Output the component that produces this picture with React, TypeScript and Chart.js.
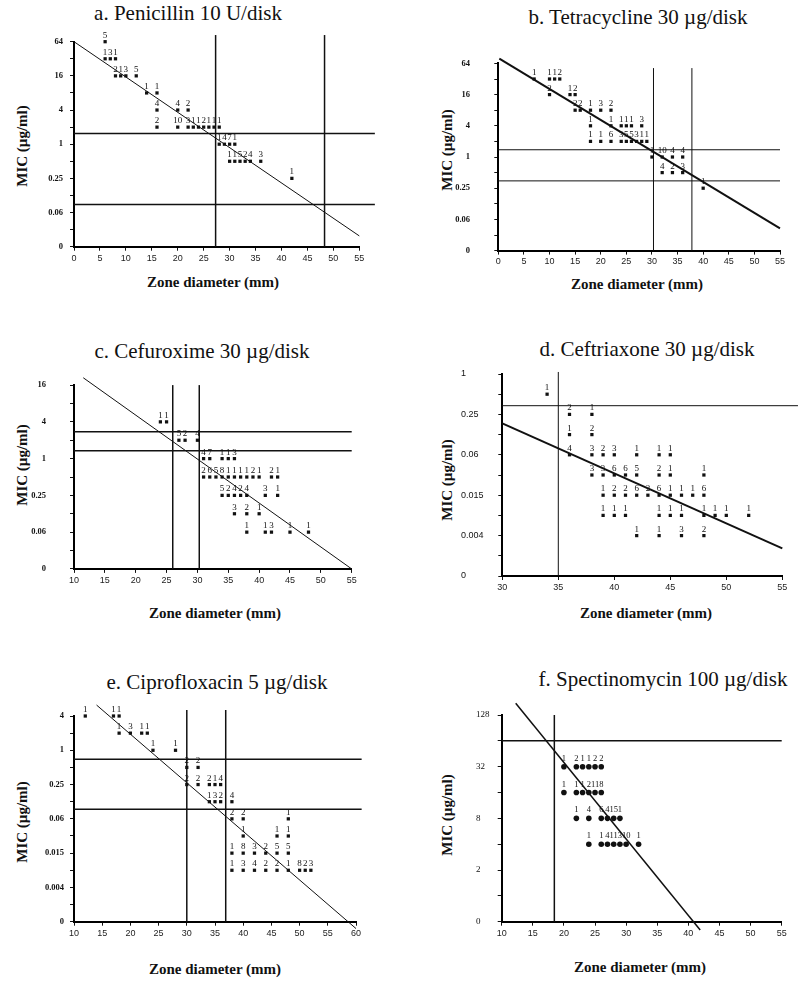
import React, { useEffect, useRef } from 'react';
import { Chart, registerables } from 'chart.js';

Chart.register(...registerables);

// [zone diameter (mm), MIC (µg/ml), number of isolates]
type Obs = [number, number, number];

// ---------- a. Penicillin 10 U/disk ----------
const penicillinObs: Obs[] = [
  [6, 64, 5],
  [6, 32, 1], [7, 32, 3], [8, 32, 1],
  [8, 16, 2], [9, 16, 1], [10, 16, 3], [12, 16, 5],
  [14, 8, 1], [16, 8, 1],
  [16, 4, 4], [20, 4, 4], [22, 4, 2],
  [16, 2, 2], [20, 2, 10], [22, 2, 3], [23, 2, 1], [24, 2, 1], [25, 2, 2], [26, 2, 1], [27, 2, 1], [28, 2, 1],
  [28, 1, 1], [29, 1, 4], [30, 1, 7], [31, 1, 1],
  [30, 0.5, 1], [31, 0.5, 1], [32, 0.5, 5], [33, 0.5, 2], [34, 0.5, 4], [36, 0.5, 3],
  [42, 0.25, 1],
];
const penicillinZoneBreaks = [27.3, 48.3];
const penicillinMicBreaks = [1.54, 0.087];
const penicillinFit: [number, number][] = [[0, 64], [55, 0.0242]];

// ---------- b. Tetracycline 30 µg/disk ----------
const tetracyclineObs: Obs[] = [
  [7, 32, 1], [10, 32, 1], [11, 32, 1], [12, 32, 2],
  [10, 16, 2], [14, 16, 1], [15, 16, 2],
  [15, 8, 2], [16, 8, 2], [18, 8, 1], [20, 8, 3], [22, 8, 2],
  [18, 4, 1], [22, 4, 1], [24, 4, 1], [25, 4, 1], [26, 4, 1], [28, 4, 3],
  [18, 2, 1], [20, 2, 1], [22, 2, 6], [24, 2, 3], [25, 2, 5], [26, 2, 5], [27, 2, 3], [28, 2, 1], [29, 2, 1],
  [30, 1, 1], [32, 1, 10], [34, 1, 4], [36, 1, 4],
  [32, 0.5, 4], [34, 0.5, 2], [36, 0.5, 3],
  [40, 0.25, 1],
];
const tetracyclineZoneBreaks = [30.3, 37.8];
const tetracyclineMicBreaks = [1.38, 0.346];
const tetracyclineFit: [number, number][] = [[0.2, 78.8], [55, 0.042]];

// ---------- c. Cefuroxime 30 µg/disk ----------
const cefuroximeObs: Obs[] = [
  [24, 4, 1], [25, 4, 1],
  [27, 2, 5], [28, 2, 2], [30, 2, 4],
  [31, 1, 4], [32, 1, 7], [34, 1, 1], [35, 1, 1], [36, 1, 3],
  [31, 0.5, 2], [32, 0.5, 6], [33, 0.5, 5], [34, 0.5, 8], [35, 0.5, 1], [36, 0.5, 1], [37, 0.5, 1], [38, 0.5, 1], [39, 0.5, 2], [40, 0.5, 1], [42, 0.5, 2], [43, 0.5, 1],
  [34, 0.25, 5], [35, 0.25, 2], [36, 0.25, 4], [37, 0.25, 2], [38, 0.25, 4], [41, 0.25, 3], [43, 0.25, 1],
  [36, 0.125, 3], [38, 0.125, 2], [40, 0.125, 1],
  [38, 0.0625, 1], [41, 0.0625, 1], [42, 0.0625, 3], [45, 0.0625, 1], [48, 0.0625, 1],
];
const cefuroximeZoneBreaks = [26.0, 30.3];
const cefuroximeMicBreaks = [2.75, 1.35];
const cefuroximeFit: [number, number][] = [[11.5, 21.1], [55, 0.0156]];

// ---------- d. Ceftriaxone 30 µg/disk ----------
const ceftriaxoneObs: Obs[] = [
  [34, 0.5, 1],
  [36, 0.25, 2], [38, 0.25, 1],
  [36, 0.125, 1], [38, 0.125, 2],
  [36, 0.0625, 4], [38, 0.0625, 3], [39, 0.0625, 2], [40, 0.0625, 3], [42, 0.0625, 1], [44, 0.0625, 1], [45, 0.0625, 1],
  [38, 0.03125, 3], [39, 0.03125, 3], [40, 0.03125, 6], [41, 0.03125, 6], [42, 0.03125, 5], [44, 0.03125, 2], [45, 0.03125, 1], [48, 0.03125, 1],
  [39, 0.015625, 1], [40, 0.015625, 2], [41, 0.015625, 2], [42, 0.015625, 6], [43, 0.015625, 2], [44, 0.015625, 6], [45, 0.015625, 1], [46, 0.015625, 1], [47, 0.015625, 1], [48, 0.015625, 6],
  [39, 0.0078125, 1], [40, 0.0078125, 1], [41, 0.0078125, 1], [44, 0.0078125, 1], [45, 0.0078125, 1], [46, 0.0078125, 1], [48, 0.0078125, 1], [49, 0.0078125, 1], [50, 0.0078125, 1], [52, 0.0078125, 1],
  [42, 0.00390625, 1], [44, 0.00390625, 1], [46, 0.00390625, 3], [48, 0.00390625, 2],
];
const ceftriaxoneZoneBreaks = [35];
const ceftriaxoneMicBreaks = [0.337];
const ceftriaxoneFit: [number, number][] = [[30, 0.184], [55, 0.00252]];

// ---------- e. Ciprofloxacin 5 µg/disk ----------
const ciprofloxacinObs: Obs[] = [
  [12, 4, 1], [17, 4, 1], [18, 4, 1],
  [18, 2, 1], [20, 2, 3], [22, 2, 1], [23, 2, 1],
  [24, 1, 1], [28, 1, 1],
  [30, 0.5, 2], [32, 0.5, 2],
  [30, 0.25, 2], [32, 0.25, 2], [34, 0.25, 2], [35, 0.25, 1], [36, 0.25, 4],
  [34, 0.125, 1], [35, 0.125, 3], [36, 0.125, 2], [38, 0.125, 4],
  [38, 0.0625, 2], [40, 0.0625, 2], [48, 0.0625, 1],
  [40, 0.03125, 1], [46, 0.03125, 1], [48, 0.03125, 1],
  [38, 0.015625, 1], [40, 0.015625, 8], [42, 0.015625, 3], [44, 0.015625, 2], [46, 0.015625, 5], [48, 0.015625, 5],
  [38, 0.0078125, 1], [40, 0.0078125, 3], [42, 0.0078125, 4], [44, 0.0078125, 2], [46, 0.0078125, 2], [48, 0.0078125, 1], [50, 0.0078125, 8], [51, 0.0078125, 2], [52, 0.0078125, 3],
];
const ciprofloxacinZoneBreaks = [30, 36.9];
const ciprofloxacinMicBreaks = [0.693, 0.092];
const ciprofloxacinFit: [number, number][] = [[14, 6.23], [60, 0.00074]];

// ---------- f. Spectinomycin 100 µg/disk ----------
const spectinomycinObs: Obs[] = [
  [20, 32, 1], [22, 32, 2], [23, 32, 1], [24, 32, 1], [25, 32, 2], [26, 32, 2],
  [20, 16, 1], [22, 16, 1], [23, 16, 1], [24, 16, 2], [25, 16, 11], [26, 16, 8],
  [22, 8, 1], [24, 8, 4], [26, 8, 6], [27, 8, 4], [28, 8, 15], [29, 8, 1],
  [24, 4, 1], [26, 4, 1], [27, 4, 4], [28, 4, 11], [29, 4, 3], [30, 4, 10], [32, 4, 1],
];
const spectinomycinZoneBreaks = [18.46];
const spectinomycinMicBreaks = [64];
const spectinomycinFit: [number, number][] = [[12.25, 175], [41.9, 0.4]];

// ---------- tick labels ----------
const zoneTicks0to55 = [0, 5, 10, 15, 20, 25, 30, 35, 40, 45, 50, 55];
const zoneTicks10to55 = [10, 15, 20, 25, 30, 35, 40, 45, 50, 55];
const zoneTicks30to55 = [30, 35, 40, 45, 50, 55];
const zoneTicks10to60 = [10, 15, 20, 25, 30, 35, 40, 45, 50, 55, 60];

const micLabels64: [number, string][] = [[64, '64'], [16, '16'], [4, '4'], [1, '1'], [0.25, '0.25'], [0.0625, '0.06'], [0.015625, '0']];
const micLabels16: [number, string][] = [[16, '16'], [4, '4'], [1, '1'], [0.25, '0.25'], [0.0625, '0.06'], [0.015625, '0']];
const micLabels1: [number, string][] = [[1, '1'], [0.25, '0.25'], [0.0625, '0.06'], [0.015625, '0.015'], [0.00390625, '0.004'], [0.0009765625, '0']];
const micLabels4: [number, string][] = [[4, '4'], [1, '1'], [0.25, '0.25'], [0.0625, '0.06'], [0.015625, '0.015'], [0.00390625, '0.004'], [0.0009765625, '0']];
const micLabels128: [number, string][] = [[128, '128'], [32, '32'], [8, '8'], [2, '2'], [0.5, '0']];

interface PanelCfg {
  title: string;
  obs: Obs[];
  zoneBreaks: number[];
  micBreaks: number[];
  fit: [number, number][];
  zoneTicks: number[];
  micLabels: [number, string][];
  area: { l: number; t: number; r: number; b: number };
  kMin: number;
  kMax: number;
  vTop: number;
  hRight: number;
  yAlign: 'right' | 'left';
  yEdge: number;
  yFont: { family: string; size: number; weight: string };
  fitWidth: number;
  refWidth: number;
  marker: 'rect' | 'circle';
  titlePos: [number, number];
  xTitlePos: [number, number];
  yTitlePos: [number, number];
}

const serifBold = { family: 'Liberation Serif', size: 8.5, weight: 'bold' };

const panels: PanelCfg[] = [
  {
    title: 'a. Penicillin 10 U/disk', obs: penicillinObs, zoneBreaks: penicillinZoneBreaks, micBreaks: penicillinMicBreaks,
    fit: penicillinFit, zoneTicks: zoneTicks0to55, micLabels: micLabels64,
    area: { l: 74, t: 41.7, r: 359.3, b: 246.7 }, kMin: -6, kMax: 6, vTop: 6.39, hRight: 58,
    yAlign: 'right', yEdge: 63, yFont: serifBold, fitWidth: 1, refWidth: 1.5, marker: 'rect',
    titlePos: [188, 21], xTitlePos: [213, 288], yTitlePos: [22, 146],
  },
  {
    title: 'b. Tetracycline 30 µg/disk', obs: tetracyclineObs, zoneBreaks: tetracyclineZoneBreaks, micBreaks: tetracyclineMicBreaks,
    fit: tetracyclineFit, zoneTicks: zoneTicks0to55, micLabels: micLabels64,
    area: { l: 498.3, t: 50, r: 780, b: 251.7 }, kMin: -6, kMax: 6, vTop: 5.7, hRight: 55,
    yAlign: 'right', yEdge: 470, yFont: serifBold, fitWidth: 2, refWidth: 1, marker: 'rect',
    titlePos: [638, 25], xTitlePos: [637, 290], yTitlePos: [447, 150],
  },
  {
    title: 'c. Cefuroxime 30 µg/disk', obs: cefuroximeObs, zoneBreaks: cefuroximeZoneBreaks, micBreaks: cefuroximeMicBreaks,
    fit: cefuroximeFit, zoneTicks: zoneTicks10to55, micLabels: micLabels16,
    area: { l: 74, t: 372, r: 351.7, b: 570 }, kMin: -6, kMax: 4, vTop: 4, hRight: 55,
    yAlign: 'right', yEdge: 46, yFont: serifBold, fitWidth: 1, refWidth: 1.5, marker: 'rect',
    titlePos: [202, 359], xTitlePos: [215, 619], yTitlePos: [22, 465],
  },
  {
    title: 'd. Ceftriaxone 30 µg/disk', obs: ceftriaxoneObs, zoneBreaks: ceftriaxoneZoneBreaks, micBreaks: ceftriaxoneMicBreaks,
    fit: ceftriaxoneFit, zoneTicks: zoneTicks30to55, micLabels: micLabels1,
    area: { l: 502.3, t: 374, r: 782.3, b: 576 }, kMin: -10, kMax: 0, vTop: 0.1, hRight: 56.4,
    yAlign: 'left', yEdge: 461, yFont: { family: 'Liberation Sans', size: 9, weight: 'normal' }, fitWidth: 2, refWidth: 1, marker: 'rect',
    titlePos: [647, 357], xTitlePos: [646, 619], yTitlePos: [447, 480],
  },
  {
    title: 'e. Ciprofloxacin 5 µg/disk', obs: ciprofloxacinObs, zoneBreaks: ciprofloxacinZoneBreaks, micBreaks: ciprofloxacinMicBreaks,
    fit: ciprofloxacinFit, zoneTicks: zoneTicks10to60, micLabels: micLabels4,
    area: { l: 74, t: 716, r: 356, b: 921.7 }, kMin: -10, kMax: 2, vTop: 2.35, hRight: 61,
    yAlign: 'right', yEdge: 64, yFont: serifBold, fitWidth: 1, refWidth: 1.5, marker: 'rect',
    titlePos: [217, 690], xTitlePos: [215, 975], yTitlePos: [22, 822],
  },
  {
    title: 'f. Spectinomycin 100 µg/disk', obs: spectinomycinObs, zoneBreaks: spectinomycinZoneBreaks, micBreaks: spectinomycinMicBreaks,
    fit: spectinomycinFit, zoneTicks: zoneTicks10to55, micLabels: micLabels128,
    area: { l: 501.7, t: 715, r: 781.7, b: 921.7 }, kMin: -1, kMax: 7, vTop: 7, hRight: 55,
    yAlign: 'left', yEdge: 476, yFont: { family: 'Liberation Serif', size: 9, weight: 'normal' }, fitWidth: 1.5, refWidth: 1.5, marker: 'circle',
    titlePos: [663, 687], xTitlePos: [640, 973], yTitlePos: [447, 815],
  },
];

const INK = '#111';

function geometry(c: PanelCfg) {
  const { l, t, r, b } = c.area;
  const left = c.yAlign === 'left' ? c.yEdge : Math.floor(l) - 70;
  const top = Math.floor(t) - 16;
  const right = Math.min(800, Math.ceil(r) + 22);
  const bottom = Math.ceil(b) + 28;
  return {
    left, top, w: right - left, h: bottom - top,
    yw: l - left, padTop: t - top, padRight: right - r, xh: bottom - b,
  };
}

function PanelChart({ cfg }: { cfg: PanelCfg }) {
  const ref = useRef<HTMLCanvasElement | null>(null);
  const g = geometry(cfg);

  useEffect(() => {
    if (!ref.current) return;
    const xMin = cfg.zoneTicks[0];
    const xMax = cfg.zoneTicks[cfg.zoneTicks.length - 1];
    const lineDs = (pts: { x: number; y: number }[], width: number) => ({
      data: pts, showLine: true, borderColor: INK, borderWidth: width, pointRadius: 0,
      fill: false, clip: false as any, tension: 0,
    });
    const datasets: any[] = [
      {
        data: cfg.obs.map(([z, m, n]) => ({ x: z, y: Math.log2(m), n })),
        pointStyle: cfg.marker,
        pointRadius: cfg.marker === 'circle' ? 2.8 : 2.3,
        pointBackgroundColor: INK,
        pointBorderWidth: 0,
        showLine: false,
        clip: false,
      },
      lineDs(cfg.fit.map(([z, m]) => ({ x: z, y: Math.log2(m) })), cfg.fitWidth),
      ...cfg.zoneBreaks.map((z) => lineDs([{ x: z, y: cfg.kMin }, { x: z, y: cfg.vTop }], cfg.refWidth)),
      ...cfg.micBreaks.map((m) => lineDs([{ x: xMin, y: Math.log2(m) }, { x: cfg.hRight, y: Math.log2(m) }], cfg.refWidth)),
    ];
    const yTicks: number[] = [];
    for (let k = cfg.kMin; k <= cfg.kMax; k++) yTicks.push(k);
    const labelFor = (v: number) => {
      const hit = cfg.micLabels.find(([m]) => Math.abs(Math.log2(m) - v) < 0.01);
      return hit ? hit[1] : '';
    };
    const countPlugin = {
      id: 'counts',
      afterDatasetsDraw(chart: any) {
        const meta = chart.getDatasetMeta(0);
        const data = chart.data.datasets[0].data;
        const ctx = chart.ctx;
        ctx.save();
        ctx.font = cfg.marker === 'circle' ? '8.5px "Liberation Serif"' : '9px "Liberation Serif"';
        ctx.fillStyle = INK;
        ctx.textAlign = 'center';
        ctx.textBaseline = 'alphabetic';
        const off = cfg.marker === 'circle' ? 6 : 4;
        meta.data.forEach((el: any, i: number) => {
          ctx.fillText(String(data[i].n), el.x, el.y - off);
        });
        ctx.restore();
      },
    };
    const chart = new Chart(ref.current, {
      type: 'scatter',
      data: { datasets },
      options: {
        animation: false,
        responsive: false,
        maintainAspectRatio: false,
        devicePixelRatio: 1,
        events: [],
        layout: { padding: { left: 0, top: g.padTop, right: g.padRight, bottom: 0 }, autoPadding: false } as any,
        plugins: { legend: { display: false }, tooltip: { enabled: false }, title: { display: false } },
        scales: {
          x: {
            type: 'linear', position: 'bottom', min: xMin, max: xMax,
            afterFit: (s: any) => { s.height = g.xh; },
            afterBuildTicks: (s: any) => { s.ticks = cfg.zoneTicks.map((v) => ({ value: v })); },
            ticks: {
              autoSkip: false, maxRotation: 0, minRotation: 0, padding: 2, color: '#222',
              font: { family: 'Liberation Sans', size: 9 },
              callback: (v: any) => String(v),
            },
            grid: { display: true, drawOnChartArea: false, drawTicks: true, tickLength: 4, color: INK, lineWidth: 1 },
            border: { display: true, color: '#000', width: 2 },
          },
          y: {
            type: 'linear', position: 'left', min: cfg.kMin, max: cfg.kMax,
            afterFit: (s: any) => { s.width = g.yw; },
            afterBuildTicks: (s: any) => { s.ticks = yTicks.map((v) => ({ value: v })); },
            ticks: {
              autoSkip: false, color: INK,
              padding: cfg.yAlign === 'right' ? cfg.area.l - 4 - cfg.yEdge : 4,
              crossAlign: cfg.yAlign === 'right' ? 'near' : 'far',
              font: cfg.yFont as any,
              callback: (v: any) => labelFor(Number(v)),
            },
            grid: { display: true, drawOnChartArea: false, drawTicks: true, tickLength: 4, color: INK, lineWidth: 1 },
            border: { display: true, color: '#000', width: 2 },
          },
        },
      } as any,
      plugins: [countPlugin],
    });
    return () => chart.destroy();
  }, []);

  return (
    <canvas
      ref={ref}
      width={g.w}
      height={g.h}
      style={{ position: 'absolute', left: g.left, top: g.top, width: g.w, height: g.h }}
    />
  );
}

function PanelTexts({ cfg }: { cfg: PanelCfg }) {
  const [tx, tb] = cfg.titlePos;
  const [xx, xb] = cfg.xTitlePos;
  const [yx, yy] = cfg.yTitlePos;
  return (
    <>
      <div style={{
        position: 'absolute', left: tx - 200, top: tb - 17.6, width: 400, textAlign: 'center',
        fontFamily: '"Liberation Serif", serif', fontSize: 21, lineHeight: '21px', color: INK, whiteSpace: 'nowrap',
      }}>{cfg.title}</div>
      <div style={{
        position: 'absolute', left: xx - 150, top: xb - 12.6, width: 300, textAlign: 'center',
        fontFamily: '"Liberation Serif", serif', fontSize: 15, fontWeight: 'bold', lineHeight: '15px', color: INK, whiteSpace: 'nowrap',
      }}>Zone diameter (mm)</div>
      <div style={{
        position: 'absolute', left: yx - 70, top: yy - 10, width: 140, height: 20, textAlign: 'center',
        fontFamily: '"Liberation Serif", serif', fontSize: 15, fontWeight: 'bold', lineHeight: '20px', color: INK,
        transform: 'rotate(-90deg)', whiteSpace: 'nowrap',
      }}>MIC (µg/ml)</div>
    </>
  );
}

export default function App() {
  return (
    <div style={{ position: 'absolute', left: 0, top: 0, width: 800, height: 990, overflow: 'hidden', background: '#fff' }}>
      {panels.map((p, i) => (
        <React.Fragment key={i}>
          <PanelTexts cfg={p} />
          <PanelChart cfg={p} />
        </React.Fragment>
      ))}
    </div>
  );
}
